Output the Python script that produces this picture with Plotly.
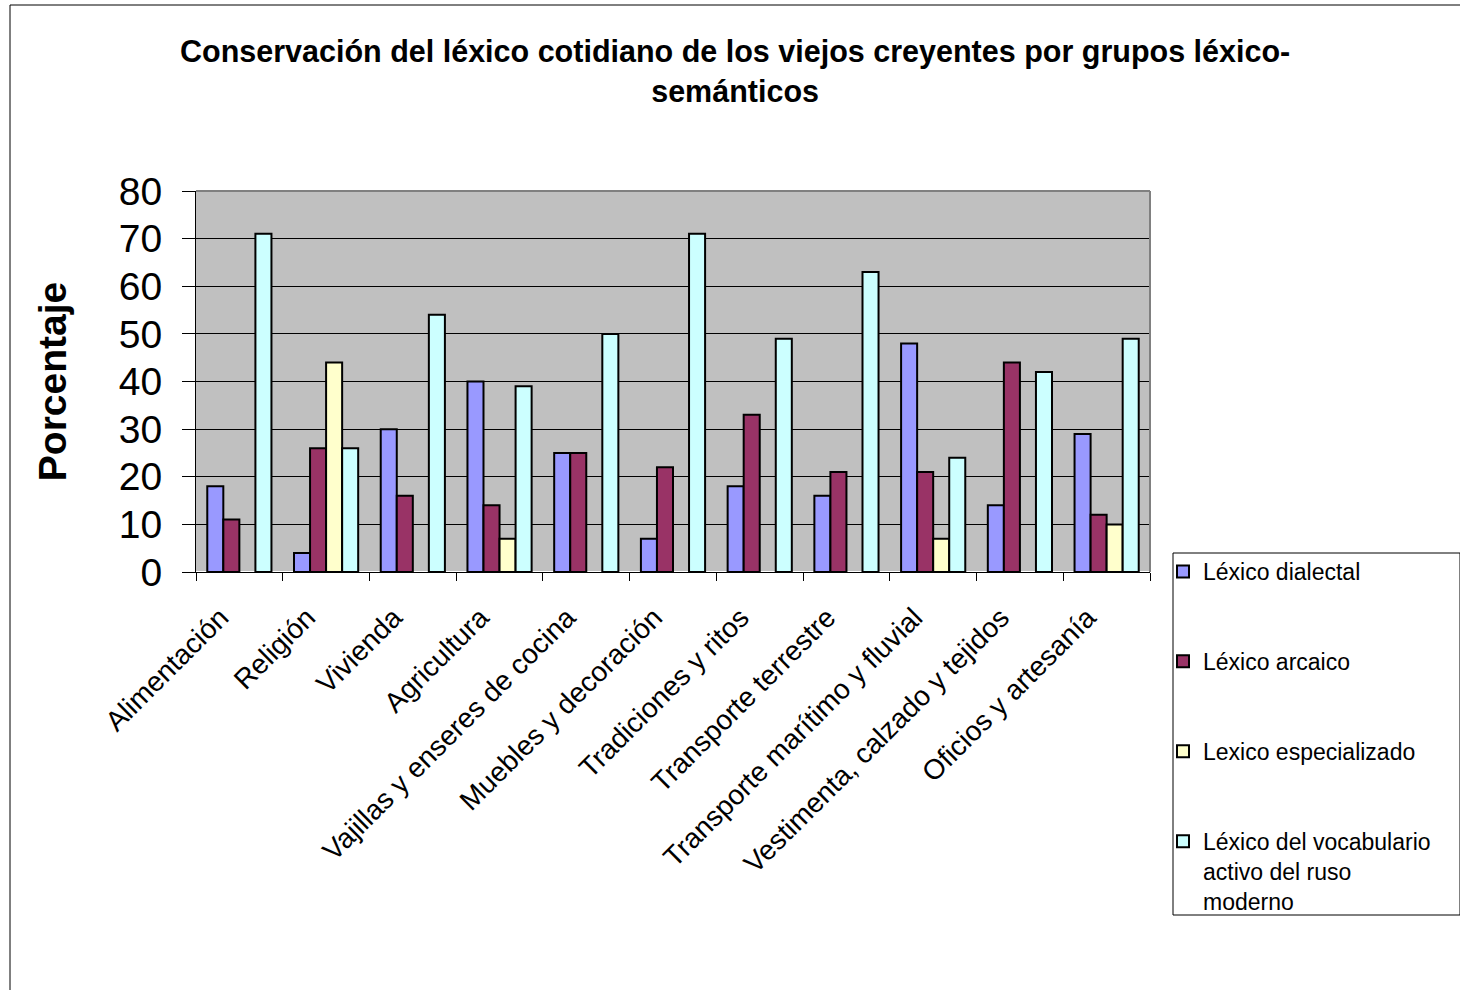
import plotly.graph_objects as go

categories = [
    "Alimentación", "Religión", "Vivienda", "Agricultura",
    "Vajillas y enseres de cocina", "Muebles y decoración",
    "Tradiciones y ritos", "Transporte terrestre",
    "Transporte marítimo y fluvial", "Vestimenta, calzado y tejidos",
    "Oficios y artesanía",
]

dialectal = [18, 4, 30, 40, 25, 7, 18, 16, 48, 14, 29]
arcaico = [11, 26, 16, 14, 25, 22, 33, 21, 21, 44, 12]
especializado = [None, 44, None, 7, None, None, None, None, 7, None, 10]
vocabulario = [71, 26, 54, 39, 50, 71, 49, 63, 24, 42, 49]

series_names = [
    "Léxico dialectal",
    "Léxico arcaico",
    "Lexico especializado",
    "Léxico del vocabulario<br>activo del ruso<br>moderno",
]
series_values = [dialectal, arcaico, especializado, vocabulario]
series_colors = ["#9999FF", "#993366", "#FFFFCC", "#CCFFFF"]

FONT = "Arial, Liberation Sans, sans-serif"

# pixel geometry of the plotting area
PX_L, PX_R, PX_T, PX_B = 196, 1150, 191, 572
W, H = 1460, 990
pw, ph = PX_R - PX_L, PX_B - PX_T


def px_x(x):
    return (x - PX_L) / pw


def px_y(y):
    return (PX_B - y) / ph


fig = go.Figure()
for i, (name, vals, col) in enumerate(zip(series_names, series_values, series_colors)):
    fig.add_trace(go.Bar(
        x=categories, y=vals, name=name,
        marker=dict(color=col, line=dict(color="black", width=2)),
        legendgroup=f"g{i}",
    ))

fig.update_layout(
    width=W, height=H,
    margin=dict(l=PX_L, r=W - PX_R, t=PX_T, b=H - PX_B),
    paper_bgcolor="white",
    plot_bgcolor="#C0C0C0",
    barmode="group",
    bargap=0.26,
    bargroupgap=0,
    font=dict(family=FONT, color="black"),
    title=dict(
        text="<b>Conservación del léxico cotidiano de los viejos creyentes por grupos léxico-<br>semánticos</b>",
        x=0.5035, xanchor="center", y=0.937, yanchor="top",
        font=dict(size=30.5, family=FONT, color="black"),
    ),
    legend=dict(
        x=px_x(1163), xanchor="left", y=px_y(550), yanchor="top",
        bgcolor="rgba(0,0,0,0)", borderwidth=0,
        font=dict(size=23, family=FONT, color="black"),
        tracegroupgap=57,
        traceorder="grouped",
        itemwidth=30,
        valign="top",
        maxheight=900,
    ),
    xaxis=dict(
        tickangle=-45,
        tickfont=dict(size=28, family=FONT),
        ticks="outside", ticklen=8, tickcolor="black",
        tickson="boundaries",
        ticklabelstandoff=17,
        ticklabelshift=-19,
        showline=True, linecolor="black", linewidth=1,
    ),
    yaxis=dict(
        range=[0, 80], dtick=10,
        tickfont=dict(size=39, family=FONT),
        ticks="outside", ticklen=13, tickcolor="black",
        ticklabelstandoff=12,
        showgrid=True, gridcolor="black", gridwidth=1,
        showline=True, linecolor="black", linewidth=1,
        title=dict(text="<b>Porcentaje</b>", font=dict(size=39, family=FONT), standoff=40),
    ),
    shapes=[
        # plot area frame on top and right
        dict(type="line", xref="paper", yref="paper", x0=0, x1=1, y0=1, y1=1,
             line=dict(color="#808080", width=2)),
        dict(type="line", xref="paper", yref="paper", x0=1, x1=1, y0=0, y1=1,
             line=dict(color="#808080", width=2)),
        # legend frame
        dict(type="rect", xref="paper", yref="paper",
             x0=px_x(1173), x1=px_x(1460), y0=px_y(915), y1=px_y(553),
             line=dict(color="black", width=1)),
        # outer chart border
        dict(type="rect", xref="paper", yref="paper",
             x0=px_x(10), x1=px_x(1475), y0=px_y(1005), y1=px_y(5),
             line=dict(color="black", width=1)),
    ],
)

fig.write_html("out.html")
